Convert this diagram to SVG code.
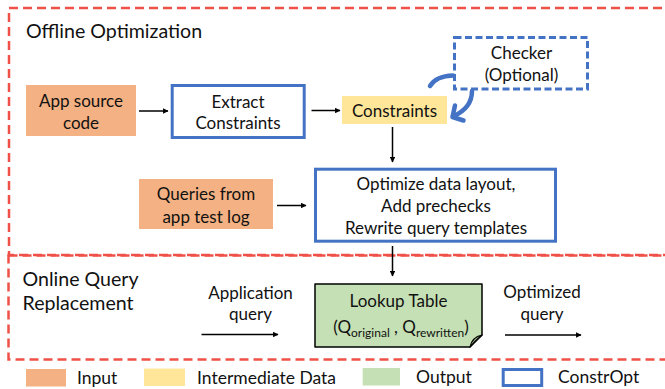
<svg xmlns="http://www.w3.org/2000/svg" width="665" height="389" viewBox="0 0 665 389">
<defs>
<marker id="ah" viewBox="0 0 10 10" refX="9" refY="5" markerWidth="5.5" markerHeight="5.5" orient="auto" markerUnits="userSpaceOnUse">
<path d="M0,0 L10,5 L0,10 Z" fill="#000"/>
</marker>
<style>
text{font-family:Lato,"Open Sans","DejaVu Sans",sans-serif;fill:#111;}
.t{font-size:17px;text-anchor:middle;}
.h{font-size:19.6px;}
.lg{font-size:17.5px;}
.region{fill:none;stroke:#EF5148;stroke-width:2.5;stroke-dasharray:9 5;}
.inp{fill:#F4B183;}
.mid{fill:#FFE699;}
.out{fill:#C5E0B4;}
.co{fill:#fff;stroke:#4472C4;stroke-width:3;}
.conn{stroke:#000;stroke-width:1.5;fill:none;marker-end:url(#ah);}
.blue{stroke:#4472C4;stroke-width:4.5;fill:none;stroke-linecap:round;stroke-linejoin:round;}
</style>
</defs>
<rect width="665" height="389" fill="#fff"/>

<g id="regions">
<rect class="region" x="9" y="8" width="670" height="247"/>
<rect class="region" x="8.5" y="255.5" width="670" height="104"/>
<text class="h" x="26" y="37.5">Offline Optimization</text>
<text class="h" x="22.5" y="286">Online Query</text>
<text class="h" x="22.5" y="310">Replacement</text>
</g>

<g id="app-source">
<rect class="inp" x="26" y="85" width="110" height="51"/>
<text class="t" x="81" y="106.5">App source</text>
<text class="t" x="81" y="128.5">code</text>
</g>

<g id="extract">
<rect class="co" x="172.2" y="85.5" width="132" height="52"/>
<text class="t" x="238" y="107.5">Extract</text>
<text class="t" x="238" y="129">Constraints</text>
</g>

<g id="constraints">
<rect class="mid" x="342" y="96" width="105" height="28"/>
<text class="t" x="394.5" y="116.5">Constraints</text>
</g>

<g id="checker">
<rect x="454.5" y="37.5" width="133" height="51.5" fill="#fff" stroke="#4472C4" stroke-width="3" stroke-dasharray="7 3.5"/>
<text class="t" x="521.5" y="59">Checker</text>
<text class="t" x="521.5" y="81">(Optional)</text>
</g>

<g id="queries">
<rect class="inp" x="139" y="179" width="134" height="50"/>
<text class="t" x="206" y="200">Queries from</text>
<text class="t" x="206" y="222.5">app test log</text>
</g>

<g id="optimize">
<rect class="co" x="315.5" y="169.2" width="240" height="72"/>
<text class="t" x="436" y="190">Optimize data layout,</text>
<text class="t" x="436" y="212">Add prechecks</text>
<text class="t" x="436" y="234">Rewrite query templates</text>
</g>

<g id="lookup">
<path d="M315,284 H482 V335 L470,347 H315 Z" fill="#C5E0B4" stroke="#000" stroke-width="1.5" stroke-linejoin="round"/>
<path d="M470,347 Q472,337 482,335 Q474,342 470,347 Z" fill="#9DB58E" stroke="#000" stroke-width="1.2" stroke-linejoin="round"/>
<text class="t" x="398.5" y="307">Lookup Table</text>
<text class="t" x="401" y="333">(Q<tspan font-size="12" dy="4">original</tspan><tspan dy="-4"> , Q</tspan><tspan font-size="12" dy="4">rewritten</tspan><tspan dy="-4">)</tspan></text>
</g>

<g id="labels">
<text class="t" x="250.5" y="299">Application</text>
<text class="t" x="250.5" y="320">query</text>
<text class="t" x="542" y="298">Optimized</text>
<text class="t" x="542" y="319.5">query</text>
</g>

<g id="connectors">
<line class="conn" x1="139" y1="111" x2="168" y2="111"/>
<line class="conn" x1="311.5" y1="110.5" x2="340" y2="110.5"/>
<line class="conn" x1="277" y1="205.5" x2="306" y2="205.5"/>
<line class="conn" x1="392.5" y1="127" x2="392.5" y2="162"/>
<line class="conn" x1="392.5" y1="246" x2="392.5" y2="276"/>
<line class="conn" x1="201.5" y1="334.5" x2="278" y2="334.5"/>
<line class="conn" x1="505" y1="335" x2="581" y2="335"/>
<path class="blue" d="M430,86 Q436,76 453,75.5"/>
<path class="blue" d="M472,91 Q472,108 453,116.5"/>
<path class="blue" d="M455,105.5 L452.5,117 L463.5,120.5"/>
</g>

<g id="legend">
<rect class="inp" x="26" y="369" width="40" height="17.5"/>
<text class="lg" x="77" y="383.5">Input</text>
<rect class="mid" x="144" y="368.5" width="41" height="17.5"/>
<text class="lg" x="197" y="384">Intermediate Data</text>
<rect class="out" x="362.7" y="368" width="37.3" height="17.5"/>
<text class="lg" x="416" y="383">Output</text>
<rect class="co" x="503.2" y="369.5" width="38.5" height="16"/>
<text class="lg" x="558" y="383">ConstrOpt</text>
</g>
</svg>
